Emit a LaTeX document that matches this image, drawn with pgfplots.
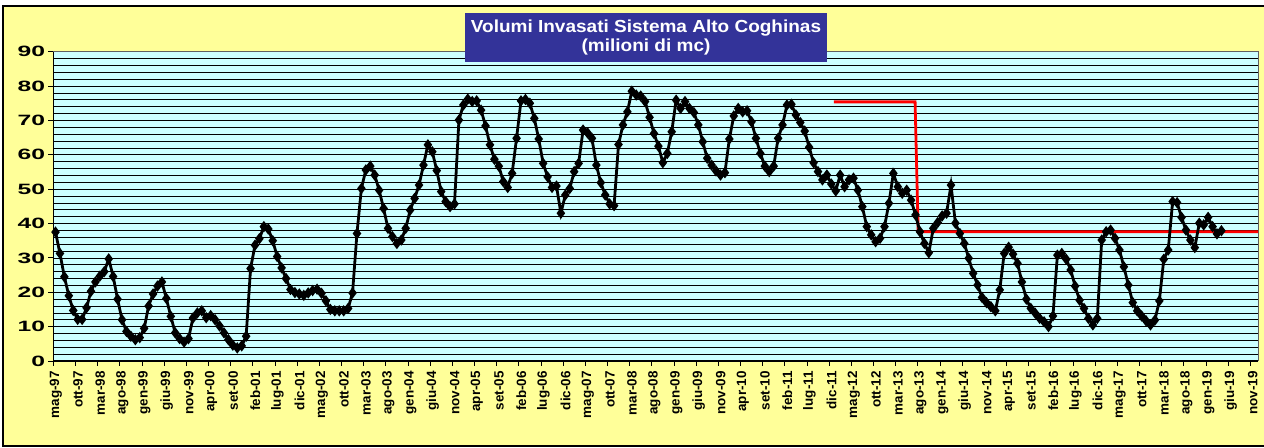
\documentclass[border=0pt]{standalone}
\usepackage{fontspec}
\setmainfont{Liberation Sans}
\usepackage{pgfplots}
\usepackage{pgfplotstable}
\usepackage{graphicx}
\pgfplotsset{compat=1.18}
\definecolor{bgyellow}{HTML}{FFFF99}
\definecolor{plotcyan}{HTML}{CCFFFF}
\definecolor{titleblue}{HTML}{333399}
\definecolor{bordergray}{HTML}{606060}
\pgfplotstableread[header=false,row sep=\\]{
37.5\\ 31.3\\ 24.5\\ 19.0\\ 14.7\\ 12.1\\ 12.1\\ 15.5\\ 20.3\\ 23.0\\
24.7\\ 26.0\\ 29.7\\ 24.6\\ 18.0\\ 12.0\\ 8.6\\ 7.2\\ 6.2\\ 6.8\\
9.5\\ 16.0\\ 19.5\\ 21.8\\ 23.0\\ 18.2\\ 13.0\\ 8.2\\ 6.5\\ 5.5\\
6.5\\ 12.5\\ 14.0\\ 14.6\\ 12.6\\ 13.2\\ 12.0\\ 10.2\\ 8.2\\ 6.2\\
4.6\\ 3.8\\ 4.4\\ 7.2\\ 26.9\\ 33.7\\ 35.6\\ 39.1\\ 38.4\\ 35.0\\
30.4\\ 27.1\\ 24.0\\ 20.8\\ 19.9\\ 19.5\\ 19.1\\ 19.8\\ 20.5\\ 20.9\\
19.7\\ 17.5\\ 15.0\\ 14.6\\ 14.6\\ 14.6\\ 15.3\\ 19.8\\ 37.1\\ 50.2\\
55.6\\ 56.7\\ 54.1\\ 49.7\\ 44.4\\ 38.6\\ 36.2\\ 34.2\\ 35.2\\ 38.6\\
43.9\\ 47.3\\ 51.2\\ 57.0\\ 62.9\\ 60.9\\ 55.4\\ 49.3\\ 46.4\\ 44.9\\
45.7\\ 70.1\\ 74.5\\ 76.2\\ 75.5\\ 75.7\\ 73.0\\ 68.4\\ 62.9\\ 58.7\\
56.7\\ 52.2\\ 50.5\\ 54.6\\ 64.8\\ 75.7\\ 76.1\\ 75.0\\ 70.6\\ 64.6\\
57.5\\ 53.6\\ 50.5\\ 50.9\\ 43.0\\ 48.3\\ 50.2\\ 55.1\\ 57.5\\ 67.2\\
66.4\\ 64.8\\ 57.0\\ 51.9\\ 48.3\\ 45.7\\ 45.2\\ 63.0\\ 68.7\\ 72.5\\
78.5\\ 77.4\\ 77.1\\ 75.5\\ 70.9\\ 66.2\\ 62.5\\ 57.7\\ 60.4\\ 66.7\\
75.9\\ 73.5\\ 75.5\\ 73.5\\ 72.3\\ 68.7\\ 63.8\\ 59.0\\ 57.0\\ 55.3\\
54.1\\ 54.8\\ 64.6\\ 71.3\\ 73.5\\ 72.5\\ 72.8\\ 69.6\\ 64.8\\ 60.4\\
56.7\\ 55.1\\ 56.7\\ 64.8\\ 68.7\\ 74.5\\ 74.7\\ 71.6\\ 69.4\\ 66.9\\
62.2\\ 57.7\\ 55.1\\ 52.7\\ 54.1\\ 51.5\\ 49.5\\ 54.1\\ 50.7\\ 52.7\\
53.2\\ 49.7\\ 44.9\\ 39.1\\ 36.7\\ 34.7\\ 35.7\\ 39.1\\ 45.9\\ 54.6\\
50.7\\ 48.8\\ 49.7\\ 46.8\\ 42.5\\ 37.6\\ 34.2\\ 31.5\\ 38.6\\ 40.3\\
42.2\\ 43.0\\ 51.2\\ 40.1\\ 37.1\\ 34.2\\ 29.9\\ 25.5\\ 22.1\\ 18.5\\
17.0\\ 15.8\\ 14.6\\ 20.7\\ 31.3\\ 33.1\\ 31.1\\ 28.4\\ 23.0\\ 18.0\\
15.3\\ 13.9\\ 12.4\\ 11.4\\ 10.0\\ 13.1\\ 30.8\\ 31.3\\ 29.6\\ 26.5\\
21.8\\ 17.7\\ 15.3\\ 12.4\\ 10.5\\ 12.4\\ 35.2\\ 37.6\\ 38.1\\ 35.7\\
32.3\\ 27.4\\ 22.1\\ 17.0\\ 14.6\\ 13.1\\ 11.7\\ 10.5\\ 11.9\\ 17.5\\
29.6\\ 32.3\\ 46.4\\ 46.1\\ 41.8\\ 38.1\\ 35.2\\ 33.0\\ 40.1\\ 39.6\\
41.8\\ 39.1\\ 37.0\\ 37.9\\
}\volumi
\begin{document}
\begin{tikzpicture}[x=1bp,y=1bp]
\begin{scope}
\clip (0,0) rectangle (1264,448);
\fill[white] (0,0) rectangle (1264,448);
\draw[fill=bgyellow, line width=1.5bp] (3,2) rectangle (1272,442);
\end{scope}
\begin{axis}[
  at={(53.3bp,87bp)}, anchor=south west,
  scale only axis, width=1204.7bp, height=309.3bp,
  xmin=0, xmax=271.76, ymin=0, ymax=90,
  axis background/.style={fill=plotcyan},
  axis line style={bordergray, line width=1bp},
  xtick={0,5,...,270},
  xticklabels={mag-97,ott-97,mar-98,ago-98,gen-99,giu-99,nov-99,apr-00,set-00,feb-01,lug-01,
    dic-01,mag-02,ott-02,mar-03,ago-03,gen-04,giu-04,nov-04,apr-05,set-05,feb-06,
    lug-06,dic-06,mag-07,ott-07,mar-08,ago-08,gen-09,giu-09,nov-09,apr-10,set-10,
    feb-11,lug-11,dic-11,mag-12,ott-12,mar-13,ago-13,gen-14,giu-14,nov-14,apr-15,
    set-15,feb-16,lug-16,dic-16,mag-17,ott-17,mar-18,ago-18,gen-19,giu-19,nov-19},
  ytick={0,10,...,90},
  minor y tick num=4,
  xtick pos=bottom, ytick pos=left,
  tick align=outside,
  major tick length=5bp, minor tick length=0pt,
  tick style={black, line width=0.8bp},
  ymajorgrids, yminorgrids,
  major grid style={black, line width=0.6bp},
  minor grid style={black, line width=0.6bp},
  yticklabel={\scalebox{1.65}[1]{\pgfmathprintnumber[assume math mode=true]{\tick}}},
  yticklabel style={font=\bfseries\fontsize{15}{15}\selectfont, anchor=east, inner sep=0pt, xshift=-3bp},
  xticklabel style={font=\bfseries\fontsize{13.5}{13.5}\selectfont, xshift=2.5bp, yshift=-5bp, rotate=90, anchor=east, inner sep=0pt},
  clip=false,
]
\addplot[red, line width=2.8bp, no markers] coordinates {(176.1,75.4) (194.4,75.4) (195.1,37.6) (271.76,37.6)};
\addplot[black, line width=2.8bp, mark=diamond*, mark size=3.4bp, mark options={solid}]
  table[x expr=\coordindex+0.5, y index=0] {\volumi};
\draw[black, line width=1bp] (rel axis cs:0,1) -- (rel axis cs:0,0) -- (rel axis cs:1,0);
\end{axis}
\fill[titleblue] (465,386) rectangle (827,435);
\node[text=white, font=\bfseries\fontsize{17.5}{19}\selectfont, align=center] at (646,410.5)
  {\scalebox{1.09}[1]{Volumi Invasati Sistema Alto Coghinas}\\\scalebox{1.09}[1]{(milioni di mc)}};
\pgfresetboundingbox
\path[use as bounding box] (0,0) rectangle (1264,448);
\end{tikzpicture}
\end{document}
